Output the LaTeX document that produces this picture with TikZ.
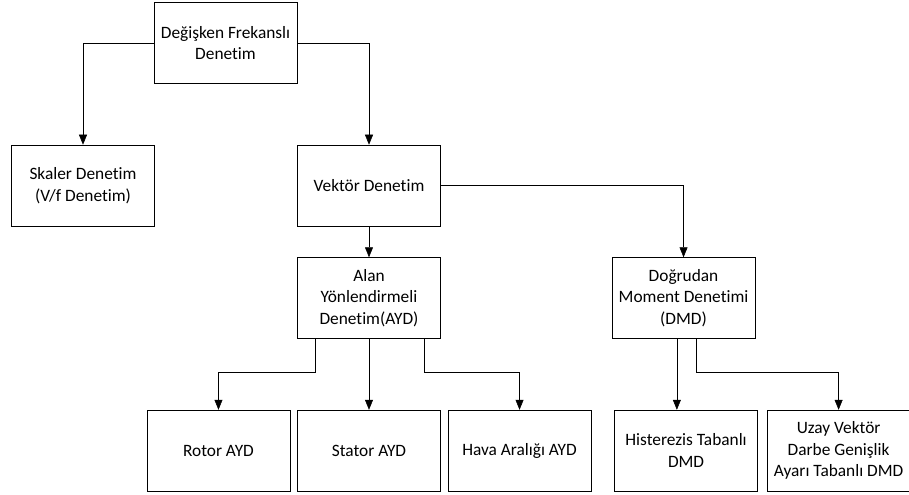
\documentclass[tikz,border=0pt]{standalone}
\usepackage{fontspec}
\setmainfont{Carlito}[Ligatures=NoCommon]
\usetikzlibrary{arrows.meta, positioning}
\tikzset{
kutu/.style={draw, thin, minimum width=107.25pt, minimum height=60.75pt, align=center, font=\fontsize{13pt}{16.25pt}\selectfont}, % the boxes
ok/.style={-{Triangle[length=7.5pt, width=6pt]}, thin}, % the connectors
}

\begin{document}
\begin{tikzpicture}[x=0.75pt, y=-0.75pt]
  \useasboundingbox (0,0) rectangle (909,495);

  \node[kutu] (dfd) at (225.5,43) {Değişken Frekanslı\\Denetim};
  \node[kutu] (skaler) at (83,185.5) {Skaler Denetim\\(V/f Denetim)};
  \node[kutu] (vektor) at (369,185.5) {Vektör Denetim};
  \node[kutu, below=23.25pt of vektor] (ayd) {Alan\\Yönlendirmeli\\Denetim(AYD)};
  \node[kutu, right=128.25pt of ayd] (dmd) {Doğrudan\\Moment Denetimi\\(DMD)};
  \node[kutu, below=53.25pt of ayd] (stator) {Stator AYD};
  \node[kutu, left=5.25pt of stator] (rotor) {Rotor AYD};
  \node[kutu, right=5.25pt of stator] (hava) {Hava Aralığı AYD};
  \node[kutu, right=17.25pt of hava] (hist) {Histerezis Tabanlı\\DMD};
  \node[kutu, right=6.75pt of hist] (uzay) {Uzay Vektör\\Darbe Genişlik\\Ayarı Tabanlı DMD};

  \draw[ok] (dfd.west) -| (skaler.north);
  \draw[ok] (dfd.east) -| (vektor.north);
  \draw[ok] (vektor.east) -| (dmd.north);
  \draw[ok] (vektor) -- (ayd);
  \draw[ok] ([xshift=13.5pt]ayd.south west) -- ++(0,33) -| (rotor.north);
  \draw[ok] (ayd) -- (stator);
  \draw[ok] ([xshift=-12.75pt]ayd.south east) -- ++(0,33) -| (hava.north);
  \draw[ok] ([xshift=-5pt]dmd.south) -- ([xshift=-5pt]dmd.south |- hist.north);
  \draw[ok] ([xshift=9.5pt]dmd.south) -- ++(0,33) -| (uzay.north);

\end{tikzpicture}
\end{document}
